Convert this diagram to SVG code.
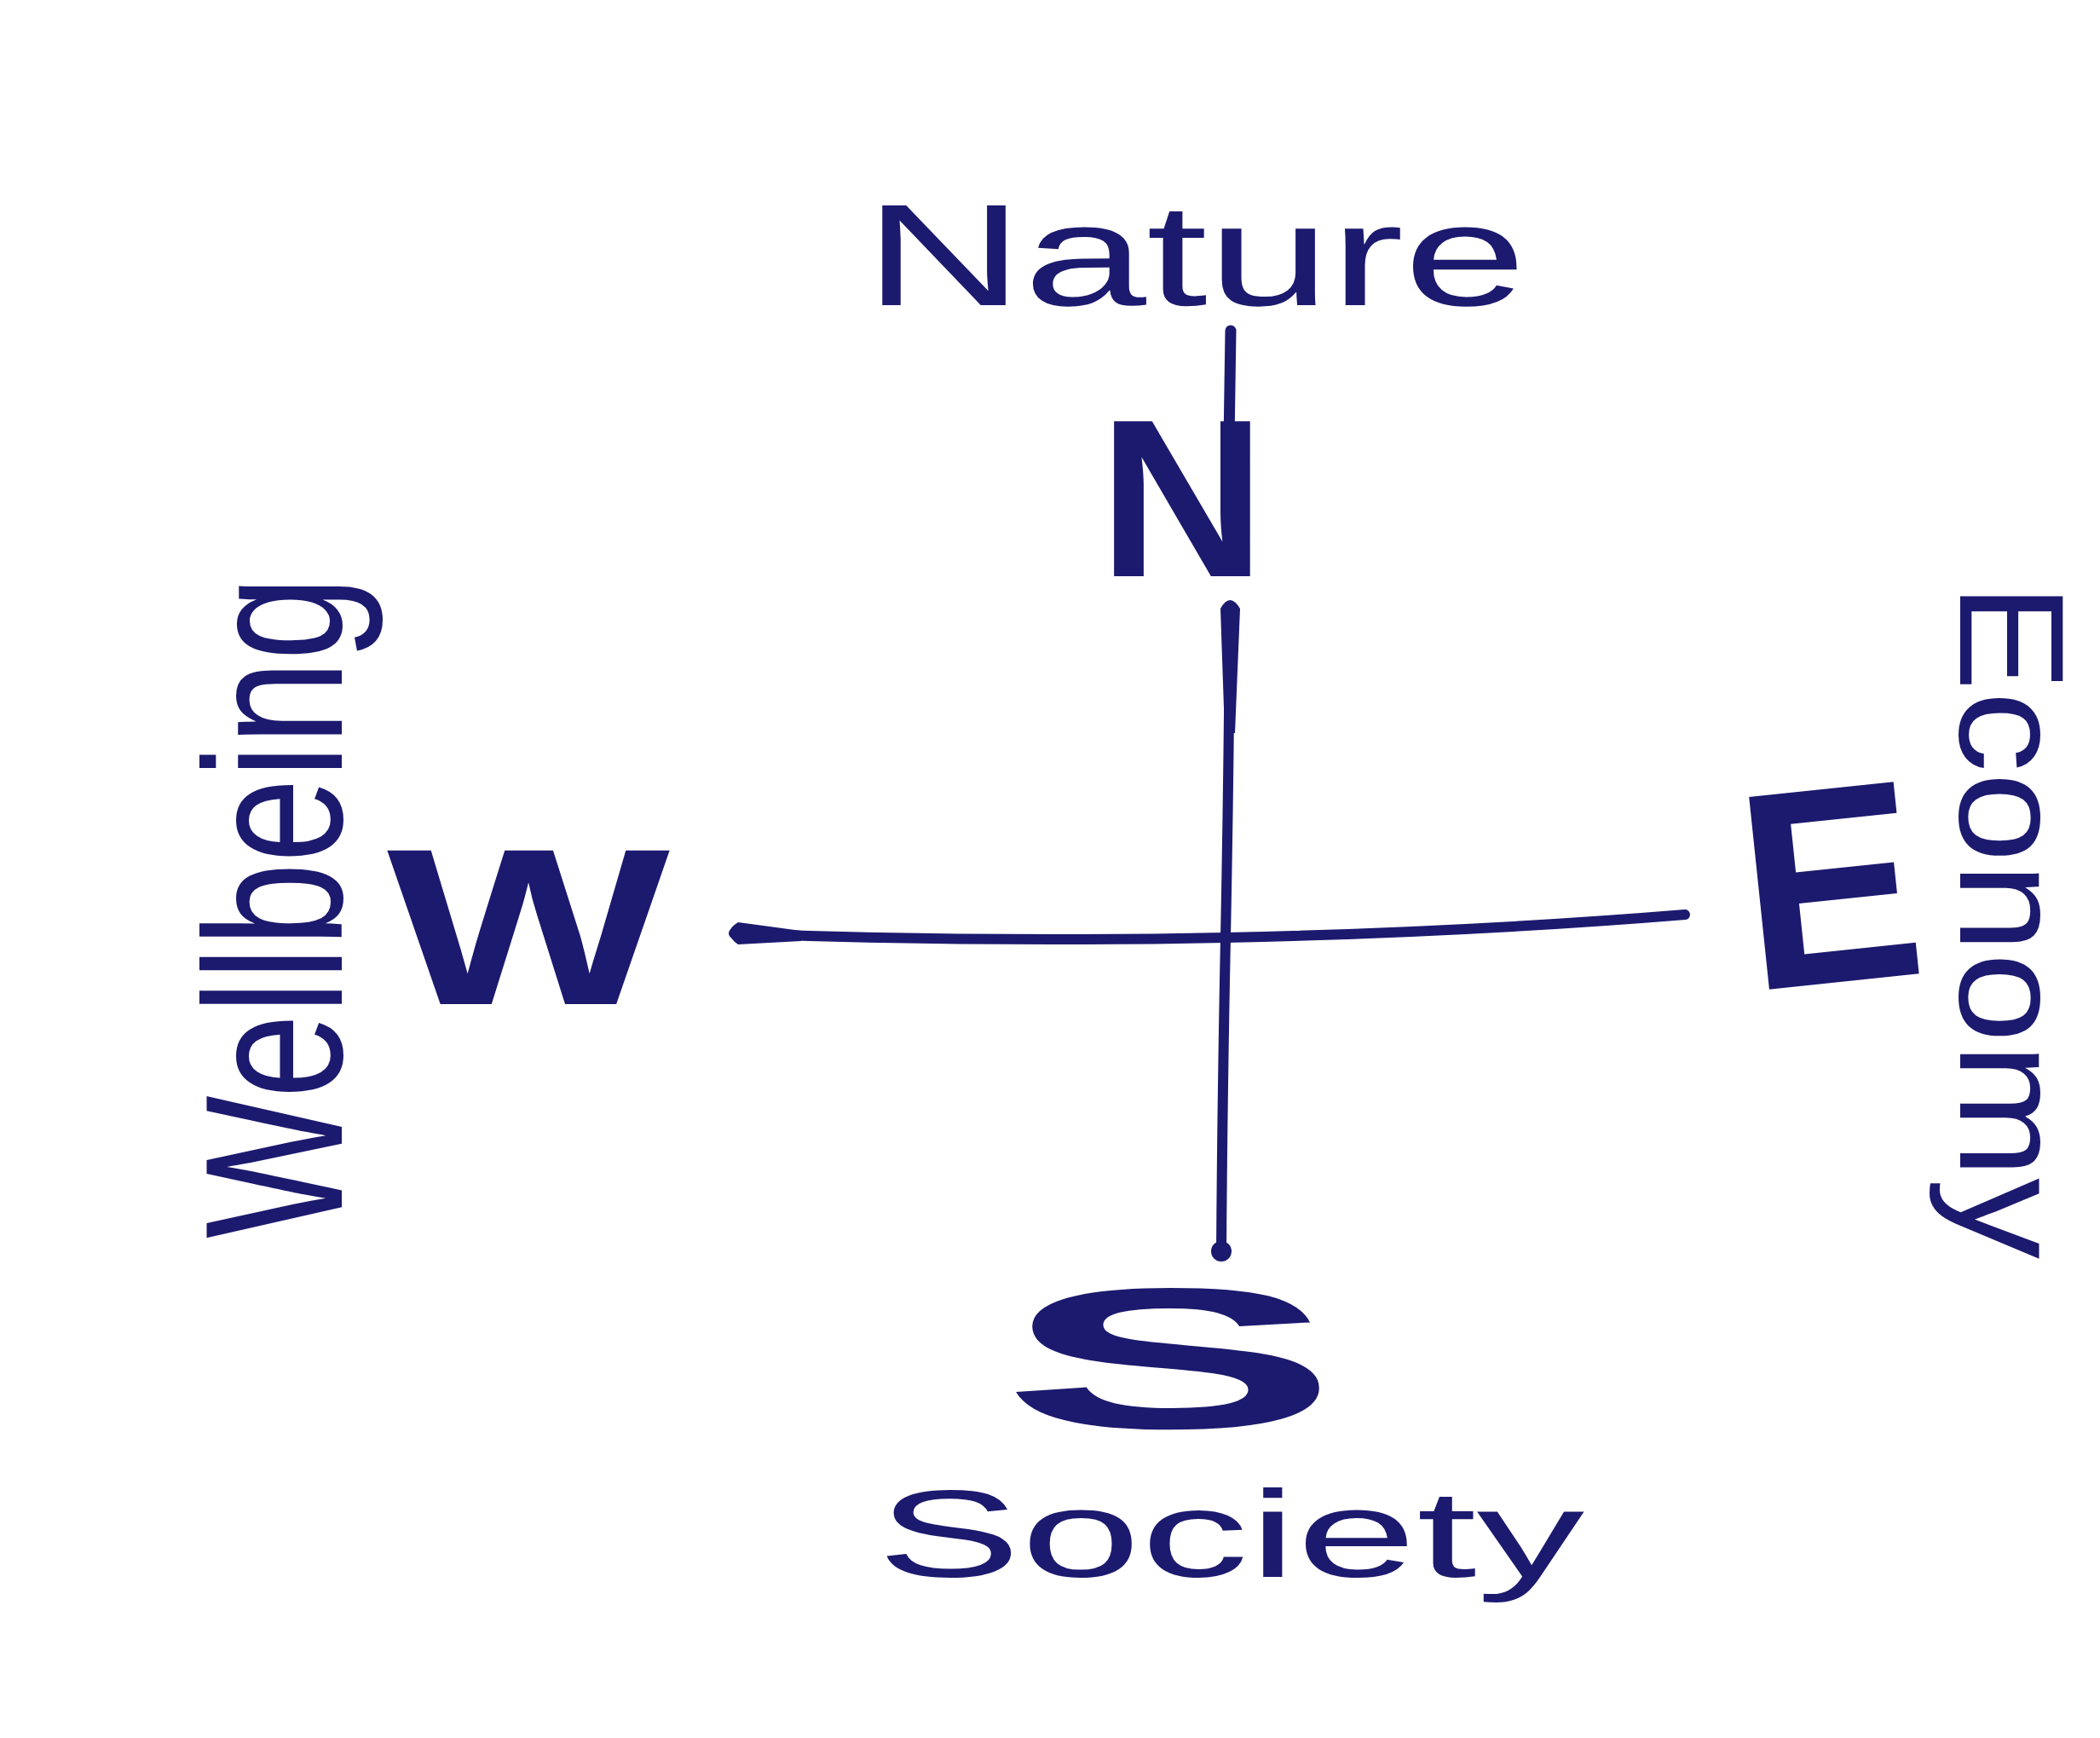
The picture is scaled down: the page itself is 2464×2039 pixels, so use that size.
<svg xmlns="http://www.w3.org/2000/svg" width="2464" height="2039" viewBox="0 0 2464 2039">
<style>
.hand{font-family:"Liberation Sans",Arial,sans-serif;fill:#1c1a6e;font-weight:normal}
.big{font-family:"Liberation Sans",Arial,sans-serif;fill:#1c1a6e;font-weight:bold}
.stroke{fill:none;stroke:#1c1a6e;stroke-linecap:round;stroke-linejoin:round}
.ink{fill:#1c1a6e;stroke:none}
</style>
<rect width="2464" height="2039" fill="#ffffff"/>
<g id="connectors">
<path class="stroke" d="M1444,388 L1442,520" stroke-width="13"/>
<path class="stroke" d="M1443,712 Q1442,900 1438,1100 Q1434,1300 1433,1472" stroke-width="12"/>
<path class="ink" d="M1432,714 Q1443,694 1455,714 L1449,860 L1437,860 Z"/>
<circle class="ink" cx="1433" cy="1468" r="12"/>
<path class="stroke" d="M861,1095 Q1150,1106 1438,1100 Q1720,1094 1977,1073" stroke-width="12"/>
<path class="ink" d="M866,1082 Q846,1094 866,1108 L940,1104 L940,1092 Z"/>
</g>
<g id="nature"><text class="hand" x="1014" y="358" font-size="170" textLength="777" lengthAdjust="spacingAndGlyphs">Nature</text></g>
<g id="N"><text class="big" x="1289" y="676" font-size="264" textLength="196" lengthAdjust="spacingAndGlyphs">N</text></g>
<g id="W"><text class="big" x="454" y="1178" font-size="262" textLength="332" lengthAdjust="spacingAndGlyphs">W</text></g>
<g id="wellbeing"><text class="hand" transform="translate(401,1453) rotate(-90)" x="0" y="0" font-size="230" textLength="777" lengthAdjust="spacingAndGlyphs">Wellbeing</text></g>
<g id="E"><text class="big" transform="rotate(-6 2055 1163)" x="2055" y="1163" font-size="330" textLength="210" lengthAdjust="spacingAndGlyphs">E</text></g>
<g id="economy"><text class="hand" transform="translate(2300,684) rotate(90)" x="0" y="0" font-size="175" textLength="793" lengthAdjust="spacingAndGlyphs">Economy</text></g>
<g id="S"><text class="big" x="1175" y="1675" font-size="235" textLength="396" lengthAdjust="spacingAndGlyphs">S</text></g>
<g id="society"><text class="hand" x="1029" y="1850" font-size="145" textLength="830" lengthAdjust="spacingAndGlyphs">Society</text></g>
</svg>
